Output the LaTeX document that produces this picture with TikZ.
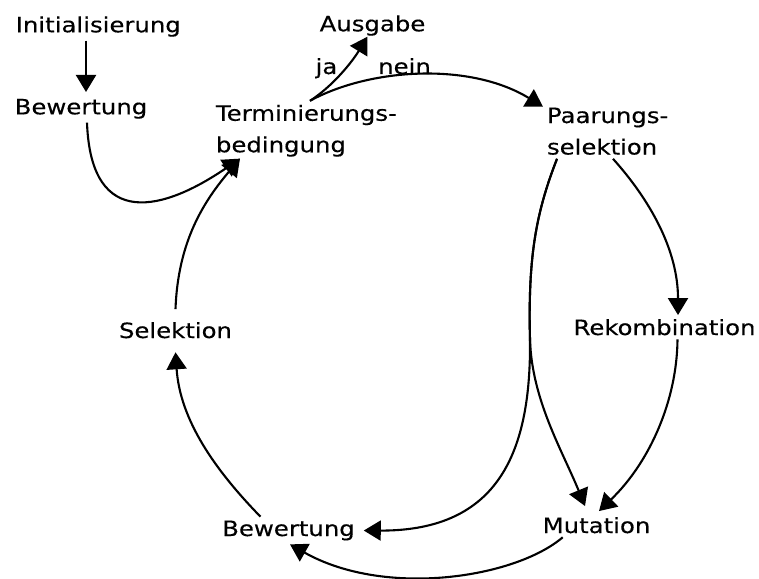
\documentclass[tikz,border=0pt]{standalone}
\usepackage{fontspec}
\setmainfont[FakeStretch=1.16,FakeBold=0.3]{DejaVu Sans}
\usetikzlibrary{arrows.meta}

\begin{document}
\begin{tikzpicture}[x=1pt,y=-1pt,
    flow/.style={draw,line width=2.1pt,-{Triangle[length=17pt,width=20pt]}}]

        \useasboundingbox (0,0) rectangle (759,578);

        \begin{scope}[every node/.style={inner sep=0pt,outer sep=4pt,font=\fontsize{21}{31.5}\selectfont}]
          \node[anchor=base] (init)   at (98.3,32.3)  {Initialisierung};
          \node[anchor=base] (bewA)   at (81,114.3)   {Bewertung};
          \node[anchor=north west,align=left] (term) at (212,100.8) {Terminierungs-\\bedingung};
          \node[anchor=base] (ausg)   at (372.5,31.3) {Ausgabe};
          \node[anchor=base] (ja)     at (326.5,74)   {ja};
          \node[anchor=base] (nein)   at (404.5,74)   {nein};
          \node[anchor=north west,align=left] (paar) at (543,103.7) {Paarungs-\\selektion};
          \node[anchor=base] (rekomb) at (664.5,335)  {Rekombination};
          \node[anchor=base] (mut)    at (596.5,533)  {Mutation};
          \node[anchor=base] (bewB)   at (288.5,536)  {Bewertung};
          \node[anchor=base] (sel)    at (175.5,338)  {Selektion};
        \end{scope}

        \draw[flow] ([xshift=5pt]bewA.north |- init.south) -- ([xshift=5pt,yshift=3pt]bewA.north);
        \draw[flow] ([xshift=6pt]bewA.south) .. controls (91,232) and (165,210) .. ([xshift=28pt,yshift=2pt]term.south west);
        \draw[flow] ([xshift=98pt]term.north west) .. controls (333,86) and (352,62) .. ([xshift=-5pt,yshift=3pt]ausg.south);
        \draw[flow] ([xshift=98pt]term.north west) .. controls (370,68) and (470,62) .. ([yshift=-3pt]paar.north west);
        \draw[flow] ([xshift=70pt]paar.south west) .. controls (650,200) and (678,250) .. ([xshift=13.5pt]rekomb.north);
        \draw[flow] ([xshift=14pt]paar.south west) .. controls (535,215) and (528,260) .. (530,340)
                    .. controls (531,450) and (500,531) .. ([xshift=5pt]bewB.east);
        \draw[flow] ([xshift=14pt]paar.south west) .. controls (535,215) and (528,260) .. (530,340)
                    .. controls (532,400) and (562,450) .. ([xshift=-11.5pt,yshift=7pt]mut.north);
        \draw[flow] ([xshift=13pt]rekomb.south) .. controls (677,400) and (650,462) .. ([xshift=2.5pt,yshift=2pt]mut.north);
        \draw[flow] ([xshift=24pt]mut.south west) .. controls (515,578) and (385,598) .. ([xshift=1.5pt]bewB.south);
        \draw[flow] ([xshift=-28pt]bewB.north) .. controls (215,470) and (180,420) .. ([yshift=-10pt]sel.south);
        \draw[flow] ([yshift=9pt]sel.north) .. controls (178,240) and (205,200) .. ([xshift=28pt,yshift=2pt]term.south west);

      \end{tikzpicture}
\end{document}
